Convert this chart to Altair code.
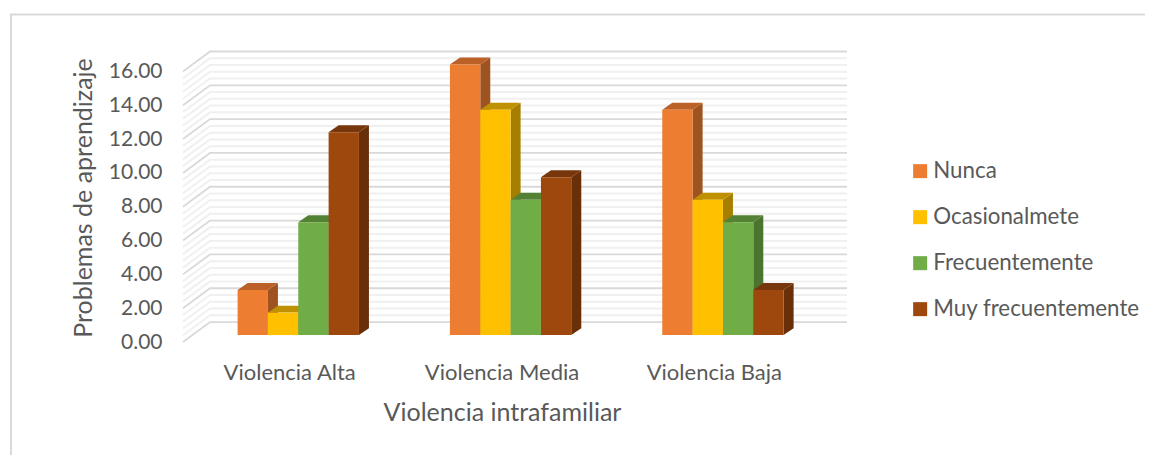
import altair as alt
import pandas as pd

categories = ["Violencia Alta", "Violencia Media", "Violencia Baja"]
series = ["Nunca", "Ocasionalmete", "Frecuentemente", "Muy frecuentemente"]
nunca = [2.67, 16.0, 13.33]
ocasional = [1.33, 13.33, 8.0]
frecuente = [6.67, 8.0, 6.67]
muy_frecuente = [12.0, 9.33, 2.67]
values = [nunca, ocasional, frecuente, muy_frecuente]

major_ticks = [0, 2, 4, 6, 8, 10, 12, 14, 16]
minor_ticks = [m + k * 0.4 for m in major_ticks[:-1] for k in (1, 2, 3, 4)]

front_colors = ["#ED7D31", "#FFC000", "#70AD47", "#9E480E"]
top_colors = ["#BB6128", "#BF9000", "#548235", "#77360B"]
side_colors = ["#9E5321", "#A67F00", "#4B7430", "#692F09"]

FONT = "Lato"
TEXT = "#595959"

# one x unit is one bar's width; a category spans seven of them (gap 300 %)
CAT_W = 7
GAP = 1.5
WALL_DX, WALL_DY = 0.89, 1.18     # depth of the side wall, in axis units
BAR_DX, BAR_DY = 0.33, 0.41       # depth of one bar, in axis units
BAR_SHIFT = 0.30                  # bars stand this far into the floor
X_MAX = 3 * CAT_W + WALL_DX
Y_MAX = 16 + WALL_DY

fronts, tops, sides = [], [], []
for s, vals in enumerate(values):
    for c, v in enumerate(vals):
        left = c * CAT_W + GAP + s + BAR_SHIFT
        right = left + 1
        bar = f"{s}-{c}"
        fronts.append(dict(serie=series[s], x=left, x2=right, y=BAR_DY, y2=BAR_DY + v))
        for t in (0, 1):
            tops.append(dict(serie=series[s], bar=bar,
                             x=left + t * BAR_DX, x2=right + t * BAR_DX,
                             y=BAR_DY + v + t * BAR_DY))
            sides.append(dict(serie=series[s], bar=bar,
                              x=right + t * BAR_DX,
                              y=BAR_DY + t * BAR_DY, y2=BAR_DY + v + t * BAR_DY))


def wall_rows(ticks):
    rows = []
    for v in ticks:
        for i, (x, y) in enumerate([(0, v), (WALL_DX, v + WALL_DY), (X_MAX, v + WALL_DY)]):
            rows.append(dict(level=v, i=i, x=x, y=y))
    return pd.DataFrame(rows)


x_scale = alt.Scale(domain=[0, X_MAX], nice=False, zero=False)
y_scale = alt.Scale(domain=[0, Y_MAX], nice=False, zero=False)

centers = [(i + 0.5) * CAT_W for i in range(len(categories))]
label_expr = "".join(f"datum.value == {c} ? '{n}' : " for c, n in zip(centers, categories)) + "''"

x_enc = alt.X("x:Q", scale=x_scale, axis=alt.Axis(
    title="Violencia intrafamiliar", values=centers, labelExpr=label_expr,
    grid=False, domain=False, ticks=False, labelPadding=20,
    labelFont=FONT, labelFontSize=22, labelColor=TEXT, labelOverlap=False,
    titleFont=FONT, titleFontSize=25, titleFontWeight="normal", titleColor=TEXT,
    titleX=319, titleY=58, titleAnchor="middle", titleAlign="center"))
y_enc = alt.Y("y:Q", scale=y_scale, axis=alt.Axis(
    title="Problemas de aprendizaje", values=major_ticks, format=".2f",
    grid=False, domain=False, ticks=False, labelPadding=21,
    labelFont=FONT, labelFontSize=21, labelColor=TEXT,
    titleFont=FONT, titleFontSize=25, titleFontWeight="normal", titleColor=TEXT,
    titleX=-87, titleY=146, titleAnchor="middle", titleAlign="center"))

PLOT_LEFT, PLOT_TOP, PLOT_W, PLOT_H = 183, 51.5, 664, 290.5

border = alt.Chart(pd.DataFrame({"a": [0]})).mark_rect(
    fill="transparent", stroke="#D9D9D9", strokeWidth=2
).encode(
    x=alt.value(11 - PLOT_LEFT), x2=alt.value(1200 - PLOT_LEFT),
    y=alt.value(14.5 - PLOT_TOP), y2=alt.value(520 - PLOT_TOP),
)

minor = alt.Chart(wall_rows(minor_ticks)).mark_line(color="#F0F0F0", strokeWidth=2).encode(
    x=x_enc, y=y_enc, detail="level:N", order="i:Q",
)

major = alt.Chart(wall_rows(major_ticks)).mark_line(color="#D9D9D9", strokeWidth=1.8).encode(
    x=x_enc, y=y_enc, detail="level:N", order="i:Q",
)

side_layer = alt.Chart(pd.DataFrame(sides)).mark_area(opacity=1, interpolate="linear").encode(
    x=x_enc, y=y_enc, y2="y2:Q", detail="bar:N",
    color=alt.Color("serie:N", sort=series, legend=None,
                    scale=alt.Scale(domain=series, range=side_colors)),
)

top_layer = alt.Chart(pd.DataFrame(tops)).mark_area(opacity=1, orient="horizontal").encode(
    y=y_enc, x=x_enc, x2="x2:Q", detail="bar:N",
    fill=alt.Fill("serie:N", sort=series, legend=None,
                  scale=alt.Scale(domain=series, range=top_colors)),
)

front_layer = alt.Chart(pd.DataFrame(fronts)).mark_rect(opacity=1).encode(
    x=x_enc, x2="x2:Q", y=y_enc, y2="y2:Q",
    fill=alt.Fill("serie:N", sort=series, legend=alt.Legend(
        title=None, orient="none", legendX=909 - PLOT_LEFT, legendY=160 - PLOT_TOP,
        symbolType="square", symbolSize=196, symbolStrokeWidth=0,
        labelFont=FONT, labelFontSize=22.3, labelColor=TEXT, labelOffset=2, labelLimit=400,
        rowPadding=23, padding=0),
        scale=alt.Scale(domain=series, range=front_colors)),
)

chart = alt.layer(
    border, minor, major, side_layer, top_layer, front_layer
).resolve_scale(color="independent", fill="independent").properties(
    width=PLOT_W, height=PLOT_H,
    autosize=alt.AutoSizeParams(type="none"),
    padding={"left": PLOT_LEFT - 8, "top": PLOT_TOP - 8, "right": 1145 - PLOT_LEFT - PLOT_W,
             "bottom": 455 - PLOT_TOP - PLOT_H},
    background="white",
).configure_view(stroke=None)

chart.save("out.html", embed_options={"renderer": "svg", "actions": False})
